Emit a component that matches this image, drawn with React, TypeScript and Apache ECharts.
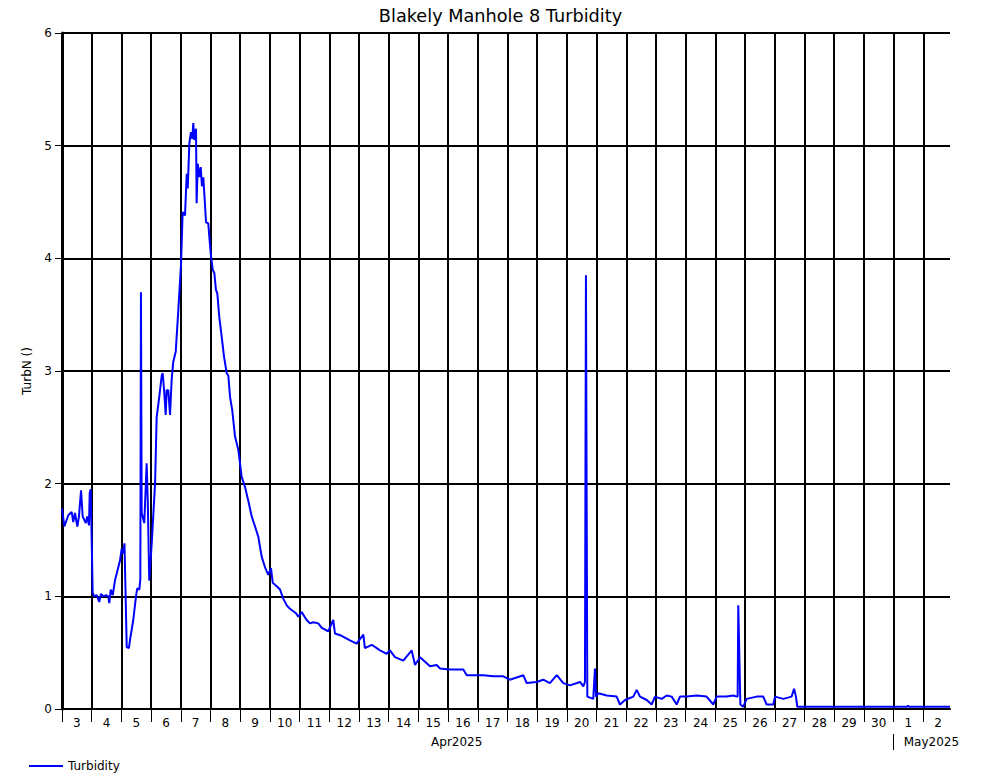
import React, { useEffect, useRef } from "react";
import * as echarts from "echarts";

const TITLE = "Blakely Manhole 8 Turbidity";
const SERIES_NAME = "Turbidity";
const Y_NAME = "TurbN ()";

// Day-of-month labels, one per day starting 3 Apr 2025
const DAY_LABELS = [
  "3", "4", "5", "6", "7", "8", "9", "10", "11", "12", "13", "14", "15", "16", "17",
  "18", "19", "20", "21", "22", "23", "24", "25", "26", "27", "28", "29", "30", "1", "2",
];
const MONTH_LABELS = ["Apr2025", "May2025"];

// Hours since 2025-04-03 00:00
const HOURS = [
  0, 1.9, 5.1, 7.8, 9.1, 10.5, 12.4, 13.7, 15.4, 16.7, 19.2, 20.4, 21.8, 22.4, 23.2,
  24.8, 26.1, 28.0, 30.1, 31.5, 33.4, 35.6, 37.4, 38.2, 39.4, 41.0, 42.8, 46.9, 48.2, 49.3, 50.5,
  52.3, 54.1, 54.9, 57.6, 59.8, 60.8, 62.5, 63.3, 63.8, 64.4, 66.5, 68.4, 69.3, 70.5,
  72.5, 75.2, 76.5, 78.6, 80.6, 81.4, 82.7, 83.8, 84.6, 85.9, 87.3, 88.6, 89.9, 91.9,
  94.0, 96.2, 97.5, 99.4, 100.8, 101.6, 102.9, 104.2, 105.3, 106.1, 106.9, 108.3, 108.8,
  109.7, 110.9, 112.1, 113.1, 114.2, 116.4, 118.2, 120.2, 121.8, 123.1, 124.4, 125.5,
  127.1, 129.1, 130.9, 133.1, 134.4, 135.8, 137.6, 139.8, 142.5, 145.2, 147.9, 150.5,
  153.3, 156.0, 158.6, 161.4, 164.0, 166.7, 168.9, 170.3, 173.5, 176.2, 178.8, 181.6,
  184.2, 189.1, 190.9, 193.7, 197.7, 200.4, 203.1, 207.1, 209.9, 215.2, 219.2, 220.6,
  226.0, 232.7, 238.1, 243.5, 244.8, 250.3, 257.0, 262.4, 265.0, 269.1, 275.8, 282.6,
  285.3, 289.3, 297.4, 302.8, 305.5, 313.5, 324.3, 327.1, 335.1, 340.4, 348.5, 356.6,
  362.0, 372.8, 375.5, 383.6, 388.9, 394.3, 399.8, 405.1, 410.5, 418.6, 421.3, 422.6,
  423.4, 424.5, 429.3, 430.7, 431.5, 433.4, 440.2, 448.2, 450.9, 455.0, 461.7, 464.4,
  467.1, 472.5, 476.5, 479.2, 484.6, 488.7, 492.7, 496.7, 499.4, 504.8, 512.9, 520.9,
  526.3, 529.1, 537.1, 542.5, 545.2, 546.0, 546.5, 548.2, 550.5, 553.3, 561.4, 566.7,
  569.4, 574.8, 576.2, 582.9, 589.6, 591.6, 593.1, 594.2, 601.8, 682.8, 683.6, 684.4, 717.6,
];

const TURBIDITY = [
  1.78, 1.62, 1.72, 1.75, 1.66, 1.74, 1.62, 1.71, 1.94, 1.71, 1.65, 1.71, 1.63, 1.92, 1.95,
  1.03, 1.0, 1.01, 0.95, 1.02, 1.0, 1.01, 1.0, 0.94, 1.06, 1.01, 1.14, 1.32, 1.42, 1.38, 1.47,
  0.55, 0.54, 0.61, 0.79, 1.0, 1.07, 1.06, 1.15, 3.7, 1.74, 1.65, 2.18, 1.85, 1.14,
  1.47, 2.0, 2.59, 2.77, 2.96, 2.98, 2.8, 2.61, 2.83, 2.83, 2.61, 2.92, 3.08, 3.17,
  3.54, 3.95, 4.41, 4.38, 4.75, 4.62, 5.02, 5.12, 5.06, 5.2, 5.05, 5.15, 4.49,
  4.84, 4.72, 4.81, 4.64, 4.72, 4.32, 4.31, 4.04, 3.9, 3.87, 3.72, 3.69,
  3.48, 3.3, 3.13, 2.98, 2.96, 2.77, 2.65, 2.42, 2.3, 2.06, 1.97, 1.85,
  1.71, 1.62, 1.53, 1.35, 1.26, 1.19, 1.25, 1.12, 1.09, 1.06, 0.98, 0.92,
  0.89, 0.85, 0.82, 0.86, 0.79, 0.76, 0.77, 0.76, 0.72, 0.69, 0.79, 0.67,
  0.65, 0.61, 0.58, 0.66, 0.54, 0.57, 0.52, 0.49, 0.52, 0.46, 0.43, 0.52,
  0.39, 0.46, 0.38, 0.39, 0.36, 0.35, 0.35, 0.3, 0.3, 0.3, 0.29, 0.29,
  0.26, 0.3, 0.23, 0.24, 0.26, 0.23, 0.3, 0.23, 0.21, 0.24, 0.2, 0.24,
  3.85, 0.11, 0.09, 0.36, 0.11, 0.14, 0.12, 0.11, 0.04, 0.08, 0.11, 0.17,
  0.11, 0.08, 0.04, 0.11, 0.09, 0.12, 0.11, 0.04, 0.11, 0.11, 0.12, 0.11,
  0.04, 0.11, 0.11, 0.12, 0.11, 0.11, 0.92, 0.04, 0.02, 0.09, 0.11, 0.11,
  0.04, 0.04, 0.11, 0.09, 0.11, 0.18, 0.11, 0.02, 0.02, 0.02, 0.03, 0.02, 0.02,
];

const FONT = "DejaVu Sans";

export default function App() {
  const ref = useRef<HTMLDivElement>(null);

  useEffect(() => {
    if (!ref.current) return;
    const chart = echarts.init(ref.current, null, { renderer: "svg" });
    const xMax = HOURS[HOURS.length - 1];
    const dayStarts = DAY_LABELS.map((_, i) => i * 24);
    const dayCenters = DAY_LABELS.map((_, i) => i * 24 + 12);
    const mayStart = 28 * 24;
    const monthLabelPos = [319, 702.6];
    const data = HOURS.map((h, i) => [h, TURBIDITY[i]]);

    chart.setOption({
      animation: false,
      backgroundColor: "#ffffff",
      textStyle: { fontFamily: FONT, color: "#000" },
      title: {
        text: TITLE,
        left: "center",
        top: 2,
        textStyle: { fontFamily: FONT, fontSize: 17.7, fontWeight: "normal", color: "#000" },
      },
      legend: {
        left: 24,
        top: 755,
        itemWidth: 34,
        itemHeight: 12,
        itemGap: 8,
        textStyle: { fontFamily: FONT, fontSize: 12, color: "#000" },
        data: [{ name: SERIES_NAME, icon: "path://M0,0 L34,0 L34,2 L0,2 Z" }],
      },
      grid: { left: 62, top: 33, width: 888, height: 676, containLabel: false },
      xAxis: [
        {
          type: "value",
          min: 0,
          max: xMax,
          axisLine: { show: true, lineStyle: { color: "#000", width: 2 } },
          axisTick: {
            show: true,
            length: 13,
            customValues: dayStarts,
            lineStyle: { color: "#000", width: 1 },
          },
          axisLabel: {
            show: true,
            customValues: dayCenters,
            formatter: (v: number) => DAY_LABELS[Math.floor(v / 24)] ?? "",
            fontFamily: FONT,
            fontSize: 12,
            color: "#000",
            margin: 8,
          },
          splitLine: { show: true, lineStyle: { color: "#000", width: 2 } },
        },
        {
          type: "value",
          min: 0,
          max: xMax,
          position: "bottom",
          offset: 25,
          axisLine: { show: false },
          axisTick: {
            show: true,
            length: 16,
            customValues: [mayStart],
            lineStyle: { color: "#000", width: 1 },
          },
          axisLabel: {
            show: true,
            customValues: monthLabelPos,
            formatter: (v: number) => (v < mayStart ? MONTH_LABELS[0] : MONTH_LABELS[1]),
            fontFamily: FONT,
            fontSize: 12,
            color: "#000",
            margin: 2,
          },
          splitLine: { show: false },
        },
      ],
      yAxis: {
        type: "value",
        min: 0,
        max: 6,
        interval: 1,
        name: Y_NAME,
        nameLocation: "middle",
        nameGap: 26,
        nameTextStyle: { fontFamily: FONT, fontSize: 12, color: "#000" },
        axisLine: { show: true, lineStyle: { color: "#000", width: 3 } },
        axisTick: { show: true, length: 7, lineStyle: { color: "#000", width: 1 } },
        axisLabel: { fontFamily: FONT, fontSize: 12, color: "#000", margin: 10 },
        splitLine: { show: true, lineStyle: { color: "#000", width: 2 } },
      },
      series: [
        {
          name: SERIES_NAME,
          type: "line",
          xAxisIndex: 0,
          data,
          symbol: "none",
          showSymbol: false,
          lineStyle: { color: "#0000ff", width: 2 },
          itemStyle: { color: "#0000ff" },
          z: 5,
        },
      ],
    });
    return () => chart.dispose();
  }, []);

  return (
    <div
      ref={ref}
      style={{ position: "fixed", left: 0, top: 0, width: 1001, height: 780, background: "#fff" }}
    />
  );
}
